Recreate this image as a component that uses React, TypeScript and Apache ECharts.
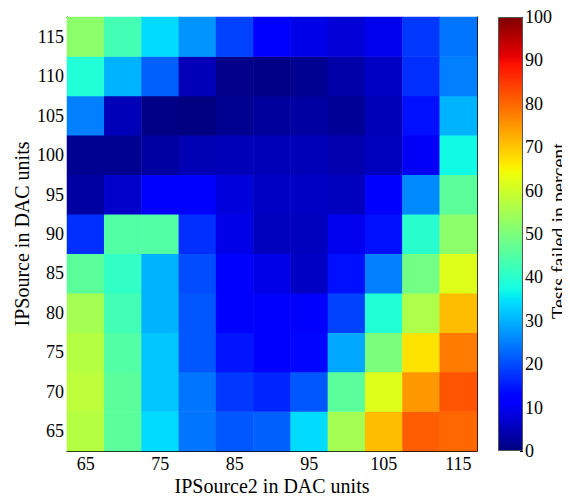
import React, { useEffect, useRef } from "react";
import * as echarts from "echarts";

const xCategories = ["65", "70", "75", "80", "85", "90", "95", "100", "105", "110", "115"];
const yCategories = ["65", "70", "75", "80", "85", "90", "95", "100", "105", "110", "115"];

// values per row (IPSource), columns follow xCategories
const row115 = [52, 43, 34, 27, 19, 11.5, 9, 7.5, 9.5, 18, 24];
const row110 = [39, 30, 22, 5, 1, 0.5, 1.5, 3.5, 6, 17, 25];
const row105 = [25, 5, 0.5, 0, 1.5, 2.5, 3, 2, 5, 14, 30];
const row100 = [1.5, 1.5, 3, 4.5, 5, 5, 5, 4, 5.5, 10.5, 37];
const row95 = [3, 6.5, 11, 12, 8, 6, 6, 5.5, 12, 26, 46];
const row90 = [17, 45, 45, 17, 9, 5.5, 5.5, 9.5, 14, 40, 52];
const row85 = [46, 41, 30, 20, 12, 9, 6, 14, 25, 49, 62];
const row80 = [55, 43, 30, 21, 12, 11.5, 11, 19, 39, 56, 71];
const row75 = [57, 45, 32, 21, 14.5, 11, 13, 29, 50, 67, 78];
const row70 = [58, 46, 32, 24, 18, 16, 21, 46, 62, 75, 82];
const row65 = [57, 46, 34, 24, 21, 22, 34, 55, 71, 81, 80];

const rowsBottomToTop = [row65, row70, row75, row80, row85, row90, row95, row100, row105, row110, row115];

const xTitle = "IPSource2 in DAC units";
const yTitle = "IPSource in DAC units";
const colorbarTitle = "Tests failed in percent";

function interp(pts: number[][], t: number): number {
  for (let i = 0; i < pts.length - 1; i++) {
    const [x0, y0] = pts[i];
    const [x1, y1] = pts[i + 1];
    if (t >= x0 && t <= x1) {
      if (x1 === x0) return y1;
      return y0 + ((y1 - y0) * (t - x0)) / (x1 - x0);
    }
  }
  return pts[pts.length - 1][1];
}

function jet(t: number): string {
  const r = interp([[0, 0], [0.35, 0], [0.66, 1], [0.89, 1], [1, 0.5]], t);
  const g = interp([[0, 0], [0.125, 0], [0.375, 1], [0.64, 1], [0.91, 0], [1, 0]], t);
  const b = interp([[0, 0.5], [0.11, 1], [0.34, 1], [0.65, 0], [1, 0]], t);
  const h = (v: number) => Math.round(v * 255).toString(16).padStart(2, "0");
  return "#" + h(r) + h(g) + h(b);
}

const N = 101;
const jetColors: string[] = [];
for (let i = 0; i < N; i++) jetColors.push(jet(i / (N - 1)));

const FONT = "Liberation Serif";

export default function App() {
  const ref = useRef<HTMLDivElement>(null);
  useEffect(() => {
    if (!ref.current) return;
    const chart = echarts.init(ref.current, undefined, { renderer: "svg" });
    const data: number[][] = [];
    rowsBottomToTop.forEach((row, yi) => {
      row.forEach((v, xi) => data.push([xi, yi, v]));
    });
    const gradient = new echarts.graphic.LinearGradient(
      0,
      1,
      0,
      0,
      jetColors.map((c, i) => ({ offset: i / (N - 1), color: c }))
    );
    const labelStyle = { fontFamily: FONT, fontSize: 18, color: "#000" };
    const tick = { show: true, alignWithLabel: true, length: 4, inside: true, lineStyle: { color: "#000" } };
    const titleStyle = { fontFamily: FONT, fontSize: 20, fill: "#000", align: "center", verticalAlign: "middle" };
    chart.setOption({
      animation: false,
      backgroundColor: "#fff",
      textStyle: { fontFamily: FONT },
      grid: [
        { left: 67, top: 17, width: 410, height: 434, containLabel: false, outerBoundsMode: "none" },
        { left: 498, top: 17, width: 25, height: 434, containLabel: false, outerBoundsMode: "none" },
      ],
      visualMap: {
        show: false,
        min: 0,
        max: 100,
        seriesIndex: 0,
        inRange: { color: jetColors },
      },
      xAxis: [
        {
          type: "category",
          gridIndex: 0,
          data: xCategories,
          position: "bottom",
          axisLine: { show: true, lineStyle: { color: "#000", width: 1 } },
          axisTick: { ...tick, interval: 1 },
          axisLabel: { ...labelStyle, interval: 1, margin: 4 },
          splitLine: { show: false },
        },
        {
          type: "category",
          gridIndex: 0,
          data: xCategories,
          position: "top",
          axisLine: { show: true, lineStyle: { color: "#000", width: 1 } },
          axisTick: { ...tick, interval: 1 },
          axisLabel: { show: false },
          splitLine: { show: false },
        },
        {
          type: "category",
          gridIndex: 1,
          data: ["cb"],
          show: false,
        },
      ],
      yAxis: [
        {
          type: "category",
          gridIndex: 0,
          data: yCategories,
          position: "left",
          axisLine: { show: true, lineStyle: { color: "#000", width: 1 } },
          axisTick: { ...tick },
          axisLabel: { ...labelStyle, interval: 0, margin: 3 },
          splitLine: { show: false },
        },
        {
          type: "category",
          gridIndex: 0,
          data: yCategories,
          position: "right",
          axisLine: { show: true, lineStyle: { color: "#000", width: 1 } },
          axisTick: { ...tick },
          axisLabel: { show: false },
          splitLine: { show: false },
        },
        {
          type: "value",
          gridIndex: 1,
          min: 0,
          max: 100,
          interval: 10,
          position: "right",
          axisLine: { show: false },
          axisTick: { show: true, length: 3, inside: true, lineStyle: { color: "#000" } },
          axisLabel: { ...labelStyle, margin: 2 },
          splitLine: { show: false },
        },
      ],
      graphic: [
        {
          type: "text",
          x: 272,
          y: 486,
          style: { text: xTitle, ...titleStyle },
        },
        {
          type: "text",
          x: 22,
          y: 234,
          rotation: Math.PI / 2,
          style: { text: yTitle, ...titleStyle },
        },
        {
          type: "text",
          x: 559,
          y: 231,
          rotation: Math.PI / 2,
          style: { text: colorbarTitle, ...titleStyle },
        },
      ],
      series: [
        {
          type: "heatmap",
          xAxisIndex: 0,
          yAxisIndex: 0,
          data,
          itemStyle: { borderWidth: 0 },
          emphasis: { disabled: true },
        },
        {
          type: "bar",
          xAxisIndex: 2,
          yAxisIndex: 2,
          data: [100],
          barWidth: "100%",
          itemStyle: { color: gradient, borderColor: "#555", borderWidth: 1 },
          silent: true,
        },
      ],
    });
    return () => chart.dispose();
  }, []);
  return <div ref={ref} style={{ width: 570, height: 498, marginLeft: -8, marginTop: -8 }} />;
}
